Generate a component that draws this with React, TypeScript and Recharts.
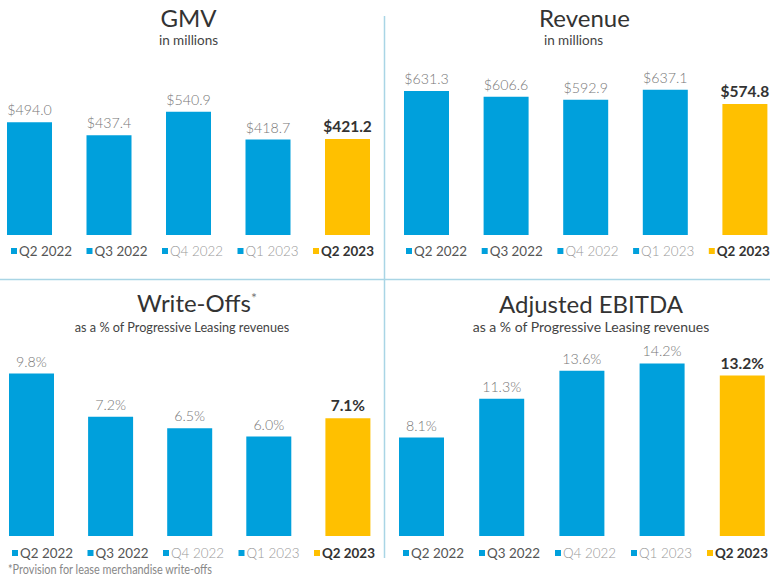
import React from 'react';
import { BarChart, Bar, XAxis, YAxis, Cell, LabelList } from 'recharts';

const quarters = ['Q2 2022', 'Q3 2022', 'Q4 2022', 'Q1 2023', 'Q2 2023'];
const gmvValues = [494.0, 437.4, 540.9, 418.7, 421.2];
const revenueValues = [631.3, 606.6, 592.9, 637.1, 574.8];
const writeOffValues = [9.8, 7.2, 6.5, 6.0, 7.1];
const ebitdaValues = [8.1, 11.3, 13.6, 14.2, 13.2];

const BLUE = '#00A0DC';
const GOLD = '#FFC000';
const LINE = '#a9d5e5';
const FONT = 'Lato, "Open Sans", sans-serif';

const money = (v: number) => `$${v.toFixed(1)}`;
const pct = (v: number) => `${v.toFixed(1)}%`;

interface PanelProps {
  values: number[];
  format: (v: number) => string;
  left: number;
  width: number;
  plotTop: number;
  plotBottom: number;
  yMax: number;
}

const Panel: React.FC<PanelProps> = ({ values, format, left, width, plotTop, plotBottom, yMax }) => {
  const data = quarters.map((q, i) => ({ quarter: q, value: values[i] }));
  const last = data.length - 1;

  const renderLabel = (props: any) => {
    const { x, y, width: w, value, index } = props;
    const bold = index === last;
    return (
      <text
        x={Number(x) + Number(w) / 2}
        y={Number(y) - 7}
        textAnchor="middle"
        fontFamily={FONT}
        fontSize={bold ? 15.5 : 14.2}
        fontWeight={bold ? 700 : 300}
        fill={bold ? '#333333' : '#777777'}
      >
        {format(Number(value))}
      </text>
    );
  };

  return (
    <div style={{ position: 'absolute', left, top: 0 }}>
      <BarChart
        width={width}
        height={plotBottom + 4}
        data={data}
        margin={{ top: plotTop, right: 0, bottom: 4, left: 0 }}
        barCategoryGap={0}
      >
        <XAxis dataKey="quarter" hide />
        <YAxis domain={[0, yMax]} hide />
        <Bar dataKey="value" barSize={45} isAnimationActive={false}>
          {data.map((d, i) => (
            <Cell key={d.quarter} fill={i === last ? GOLD : BLUE} />
          ))}
          <LabelList dataKey="value" content={renderLabel} />
        </Bar>
      </BarChart>
    </div>
  );
};

const Legend: React.FC<{ x: number; y: number; step: number }> = ({ x, y, step }) => (
  <g>
    {quarters.map((q, i) => {
      const lx = x + i * step;
      const bold = i === quarters.length - 1;
      const faint = i === 2 || i === 3;
      return (
        <g key={q}>
          <rect x={lx} y={y - 3} width={6} height={6} fill={bold ? GOLD : BLUE} />
          <text
            x={lx + 8}
            y={y + 5}
            fontFamily={FONT}
            fontSize={13.4}
            fontWeight={bold ? 700 : faint ? 300 : 400}
            fill={bold ? '#333333' : faint ? '#999999' : '#555555'}
          >
            {q}
          </text>
        </g>
      );
    })}
  </g>
);

const App: React.FC = () => {
  return (
    <div
      style={{
        position: 'absolute',
        left: 0,
        top: 0,
        width: 770,
        height: 579,
        overflow: 'hidden',
        background: '#ffffff',
      }}
    >
      <Panel values={gmvValues} format={money} left={-9.75} width={397.5} plotTop={75} plotBottom={235} yMax={701.75} />
      <Panel values={revenueValues} format={money} left={387.2} width={398} plotTop={75} plotBottom={235} yMax={701.75} />
      <Panel values={writeOffValues} format={pct} left={-8} width={395.5} plotTop={356} plotBottom={536} yMax={10.86} />
      <Panel values={ebitdaValues} format={pct} left={381} width={401} plotTop={356} plotBottom={536} yMax={14.81} />

      <svg width={770} height={579} style={{ position: 'absolute', left: 0, top: 0, pointerEvents: 'none' }}>
        {/* dividers */}
        <line x1={384.5} y1={16} x2={384.5} y2={558} stroke={LINE} strokeWidth={1.5} />
        <line x1={0} y1={279.5} x2={770} y2={279.5} stroke={LINE} strokeWidth={1.5} />

        {/* titles */}
        <g fontFamily={FONT} textAnchor="middle">
          <text x={188.5} y={27} fontSize={24} fill="#333333">GMV</text>
          <text x={188.5} y={45} fontSize={13.5} fill="#444444">in millions</text>

          <text x={584.5} y={27} fontSize={24} fill="#333333">Revenue</text>
          <text x={573.5} y={45} fontSize={13.5} fill="#444444">in millions</text>

          <text x={197} y={312} fontSize={24} fill="#333333">
            Write-Offs<tspan fontSize={14} dy={-9} fill="#777777">*</tspan>
          </text>
          <text x={182} y={332} fontSize={12.7} fill="#444444">as a % of Progressive Leasing revenues</text>

          <text x={591} y={313} fontSize={24} fill="#333333">Adjusted EBITDA</text>
          <text x={591} y={332} fontSize={14} fill="#444444">as a % of Progressive Leasing revenues</text>
        </g>

        <Legend x={11} y={251} step={75.5} />
        <Legend x={406} y={251} step={75.7} />
        <Legend x={12} y={553} step={75.5} />
        <Legend x={403} y={553} step={76} />

        <text
          x={8}
          y={574}
          fontFamily={FONT}
          fontSize={13}
          fill="#888888"
          textLength={204}
          lengthAdjust="spacingAndGlyphs"
        >
          *Provision for lease merchandise write-offs
        </text>
      </svg>
    </div>
  );
};

export default App;
